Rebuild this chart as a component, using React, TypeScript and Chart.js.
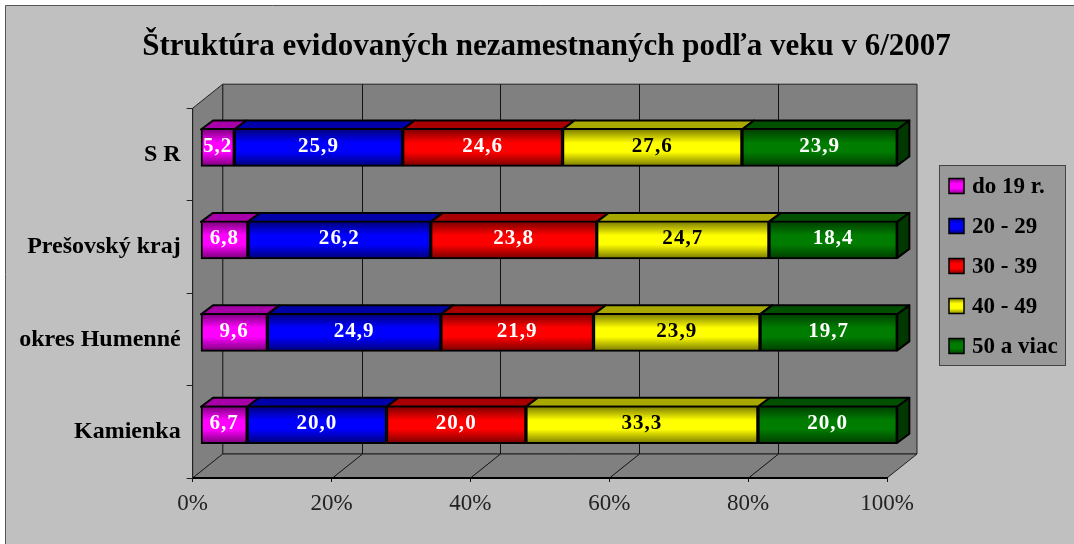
import React, { useEffect, useRef } from "react";
import { Chart, registerables } from "chart.js";

Chart.register(...registerables);

const titleText = "Štruktúra evidovaných nezamestnaných podľa veku v 6/2007";
const categories = ["S R", "Prešovský kraj", "okres Humenné", "Kamienka"];
const seriesNames = ["do 19 r.", "20 - 29", "30 - 39", "40 - 49", "50 a viac"];
const do19 = [5.2, 6.8, 9.6, 6.7];
const v20 = [25.9, 26.2, 24.9, 20.0];
const v30 = [24.6, 23.8, 21.9, 20.0];
const v40 = [27.6, 24.7, 23.9, 33.3];
const v50 = [23.9, 18.4, 19.7, 20.0];
const series = [do19, v20, v30, v40, v50];
const tickValues = [0, 20, 40, 60, 80, 100];

const bright = ["#ff00ff", "#0000ff", "#ff0000", "#ffff00", "#007c00"];
const edge = ["#800080", "#000080", "#800000", "#808000", "#004000"];
const topFace = ["#a800a8", "#0000a8", "#a80000", "#a8a800", "#005000"];
const sideFace = "#003800";
const labelColors = ["#fff", "#fff", "#fff", "#000", "#fff"];

const SERIF = '"Liberation Serif", serif';
const WALL_DX = 30, WALL_DY = 24;
const BAR_LEFT = 200.5, BAR_SHIFT_Y = -7, BAR_DX = 12, BAR_DY = 9, BAR_H = 38;

const totals = categories.map((_, i) => series.reduce((s, a) => s + a[i], 0));

const scene = {
  id: "scene",
  beforeDraw(chart: any) {
    const { ctx, chartArea: a, scales } = chart;
    ctx.save();
    ctx.fillStyle = "#fff";
    ctx.fillRect(0, 0, chart.width, chart.height);
    ctx.fillStyle = "#c0c0c0";
    ctx.fillRect(6, 5, chart.width - 6, chart.height - 5);
    ctx.strokeStyle = "#555";
    ctx.lineWidth = 1;
    ctx.beginPath();
    ctx.moveTo(5.5, chart.height);
    ctx.lineTo(5.5, 5.5);
    ctx.lineTo(chart.width, 5.5);
    ctx.stroke();

    const L = a.left, R = a.right, T = a.top, B = a.bottom;
    const poly = (pts: number[][], fill: string) => {
      ctx.beginPath();
      pts.forEach((p, i) => (i ? ctx.lineTo(p[0], p[1]) : ctx.moveTo(p[0], p[1])));
      ctx.closePath();
      ctx.fillStyle = fill;
      ctx.fill();
      ctx.stroke();
    };
    ctx.strokeStyle = "#222";
    ctx.lineWidth = 1;
    const wall = "#808080";
    poly([[L + WALL_DX, T - WALL_DY], [R + WALL_DX, T - WALL_DY], [R + WALL_DX, B - WALL_DY], [L + WALL_DX, B - WALL_DY]], wall);
    poly([[L, T], [L + WALL_DX, T - WALL_DY], [L + WALL_DX, B - WALL_DY], [L, B]], wall);
    poly([[L, B], [L + WALL_DX, B - WALL_DY], [R + WALL_DX, B - WALL_DY], [R, B]], wall);
    ctx.lineWidth = 1;
    ctx.strokeStyle = "#111";
    tickValues.slice(1, -1).forEach((v) => {
      const x = Math.round(scales.x.getPixelForValue(v)) + 0.5;
      ctx.beginPath();
      ctx.moveTo(x, B);
      ctx.lineTo(x + WALL_DX, B - WALL_DY);
      ctx.lineTo(x + WALL_DX, T - WALL_DY);
      ctx.stroke();
    });
    ctx.restore();
  },
  beforeDatasetsDraw(chart: any) {
    const { ctx, chartArea: a } = chart;
    const k = (chart.width - 187 - a.left + 2.5) / (a.right - a.left);
    ctx.save();
    ctx.translate(BAR_LEFT, BAR_SHIFT_Y);
    ctx.scale(k, 1);
    ctx.translate(-a.left, 0);
    // top and end faces of the bars
    ctx.strokeStyle = "#000";
    ctx.lineWidth = 2;
    ctx.lineJoin = "round";
    series.forEach((_, d) => {
      const meta = chart.getDatasetMeta(d);
      meta.data.forEach((el: any) => {
        const p = el.getProps(["x", "y", "base", "height"], true);
        const t = p.y - BAR_H / 2 + 1;
        const b = p.y + BAR_H / 2 - 1;
        ctx.beginPath();
        ctx.moveTo(p.base, t);
        ctx.lineTo(p.base + BAR_DX, t - BAR_DY);
        ctx.lineTo(p.x + BAR_DX, t - BAR_DY);
        ctx.lineTo(p.x, t);
        ctx.closePath();
        ctx.fillStyle = topFace[d];
        ctx.fill();
        ctx.stroke();
        if (d === series.length - 1) {
          ctx.beginPath();
          ctx.moveTo(p.x, t);
          ctx.lineTo(p.x + BAR_DX, t - BAR_DY);
          ctx.lineTo(p.x + BAR_DX, b - BAR_DY);
          ctx.lineTo(p.x, b);
          ctx.closePath();
          ctx.fillStyle = sideFace;
          ctx.fill();
          ctx.stroke();
        }
      });
    });
  },
  afterDatasetsDraw(chart: any) {
    const { ctx } = chart;
    ctx.textAlign = "center";
    ctx.textBaseline = "middle";
    ctx.font = `bold 21px ${SERIF}`;
    (ctx as any).letterSpacing = "1px";
    series.forEach((values, d) => {
      const meta = chart.getDatasetMeta(d);
      meta.data.forEach((el: any, i: number) => {
        const p = el.getProps(["x", "y", "base"], true);
        ctx.fillStyle = labelColors[d];
        ctx.fillText(values[i].toFixed(1).replace(".", ","), (p.x + p.base) / 2, p.y - 1);
      });
    });
    (ctx as any).letterSpacing = "0px";
    ctx.restore();

    // legend panel
    ctx.save();
    ctx.fillStyle = "#999999";
    ctx.strokeStyle = "#444";
    ctx.lineWidth = 1;
    ctx.fillRect(939.5, 165.5, 126, 200);
    ctx.strokeRect(939.5, 165.5, 126, 200);
    ctx.textAlign = "left";
    ctx.textBaseline = "middle";
    ctx.font = `bold 23px ${SERIF}`;
    seriesNames.forEach((name, d) => {
      const cy = 186 + d * 40;
      const g = ctx.createLinearGradient(0, cy - 8, 0, cy + 8);
      g.addColorStop(0, edge[d]);
      g.addColorStop(0.35, bright[d]);
      g.addColorStop(0.65, bright[d]);
      g.addColorStop(1, edge[d]);
      ctx.fillStyle = g;
      ctx.fillRect(949, cy - 7.5, 15, 15);
      ctx.strokeStyle = "#000";
      ctx.lineWidth = 1.5;
      ctx.strokeRect(949, cy - 7.5, 15, 15);
      ctx.fillStyle = "#000";
      ctx.fillText(name, 972, cy + 1);
    });
    ctx.restore();
  },
  afterLayout(chart: any) {
    // title is centred over the whole picture, not over the plot
    if (chart.titleBlock) {
      chart.titleBlock.left = 19;
      chart.titleBlock.right = chart.width;
    }
  },
};

export default function App() {
  const ref = useRef<HTMLCanvasElement>(null);
  useEffect(() => {
    const chart = new Chart(ref.current as HTMLCanvasElement, {
      type: "bar",
      plugins: [scene],
      data: {
        labels: categories,
        datasets: series.map((values, d) => ({
          label: seriesNames[d],
          data: values.map((v, i) => (v / totals[i]) * 100),
          barThickness: BAR_H,
          borderWidth: 2,
          borderColor: "#000",
          borderSkipped: false,
          clip: false,
          backgroundColor: (c: any) => {
            const sc = c.chart.scales.y;
            if (!sc || c.dataIndex === undefined) return bright[d];
            const m = sc.getPixelForValue(c.dataIndex);
            if (!Number.isFinite(m)) return bright[d];
            const g = c.chart.ctx.createLinearGradient(0, m - BAR_H / 2, 0, m + BAR_H / 2);
            g.addColorStop(0.03, edge[d]);
            g.addColorStop(0.38, bright[d]);
            g.addColorStop(0.62, bright[d]);
            g.addColorStop(0.97, edge[d]);
            return g;
          },
        })),
      } as any,
      options: {
        indexAxis: "y",
        responsive: false,
        animation: false,
        layout: { padding: { left: 0, right: 187, top: 0, bottom: 0 } },
        plugins: {
          legend: { display: false },
          tooltip: { enabled: false },
          title: {
            display: true,
            text: titleText,
            color: "#000",
            font: { family: SERIF, size: 31, weight: "bold", lineHeight: 1.2 },
            padding: { top: 28, bottom: 43 },
          },
        },
        scales: {
          x: {
            stacked: true,
            min: 0,
            max: 100,
            afterBuildTicks: (s: any) => {
              s.ticks = tickValues.map((value) => ({ value }));
            },
            afterFit: (s: any) => {
              s.height = 66;
            },
            grid: { drawOnChartArea: false, drawTicks: true, tickLength: 4, color: "#111" },
            border: { display: true, color: "#000", width: 2 },
            ticks: {
              callback: (v: any) => `${v}%`,
              color: "#222",
              font: { family: SERIF, size: 23 },
              padding: 8,
              maxRotation: 0,
              autoSkip: false,
            },
          },
          y: {
            stacked: true,
            afterFit: (s: any) => {
              s.width = 192.7;
            },
            grid: { drawOnChartArea: false, drawTicks: true, tickLength: 6, color: "#222" },
            border: { display: true, color: "#222", width: 1 },
            ticks: {
              color: "#000",
              font: { family: SERIF, size: 24, weight: "bold" },
              padding: 6,
            },
          },
        },
      } as any,
    });
    return () => chart.destroy();
  }, []);
  return (
    <div style={{ position: "fixed", left: 0, top: 0, width: 1074, height: 544 }}>
      <canvas ref={ref} width={1074} height={544} style={{ display: "block" }} />
    </div>
  );
}
